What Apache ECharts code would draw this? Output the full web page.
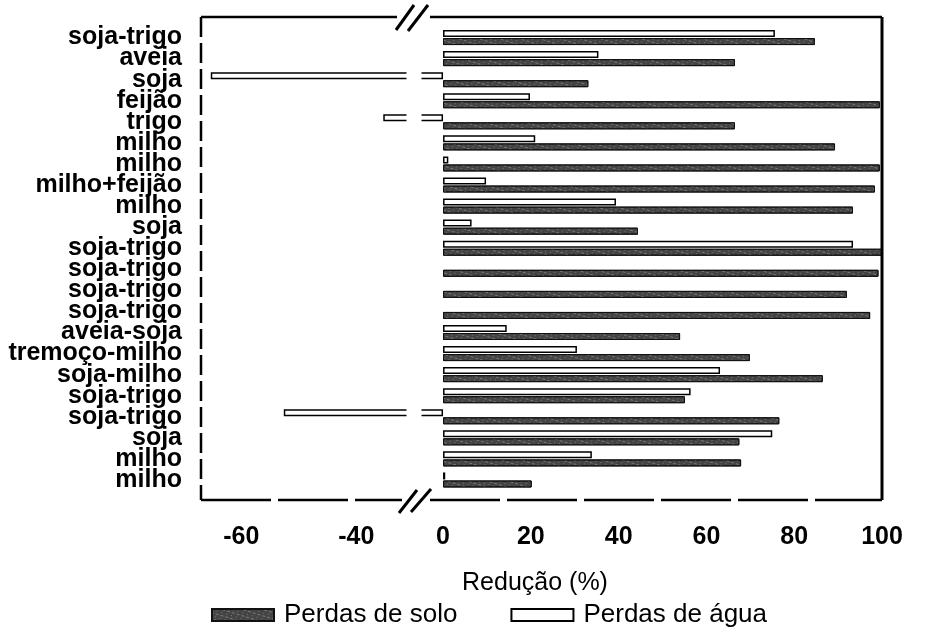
<!DOCTYPE html>
<html>
<head>
<meta charset="utf-8">
<script src="https://cdn.jsdelivr.net/npm/echarts@6/dist/echarts.min.js"></script>
<style>html,body{margin:0;padding:0;background:#fff;}#chart{width:926px;height:632px;}</style>
</head>
<body>
<div id="chart"></div>
<script>
// ---- data ----
const categories = ['soja-trigo','aveia','soja','feijão','trigo','milho','milho','milho+feijão','milho','soja','soja-trigo','soja-trigo','soja-trigo','soja-trigo','aveia-soja','tremoço-milho','soja-milho','soja-trigo','soja-trigo','soja','milho','milho'];
const perdasSolo = [84.7, 66.5, 33.1, 99.5, 66.5, 89.3, 99.5, 98.4, 93.4, 44.4, 100, 99.2, 92, 97.3, 54, 69.9, 86.5, 55.1, 76.6, 67.5, 67.9, 20.2];
const perdasAgua = [75.6, 35.4, -65.3, 19.8, -35.3, 21, 1.2, 9.8, 39.4, 6.5, 93.4, null, null, null, 14.5, 30.5, 63.1, 56.4, -52.6, 75, 33.9, 0.5];
const ticksNeg = [-60, -40];
const ticksPos = [0, 20, 40, 60, 80, 100];
const seriesNames = ['Perdas de solo', 'Perdas de água'];

// ---- layout ----
const FR = {left: 201, right: 882, top: 17, bottom: 500};
const GRID_TOP = 27, GRID_H = 463.5;
const LEFT_W = 207, RIGHT_LEFT = 420;

const chart = echarts.init(document.getElementById('chart'), null, {renderer: 'canvas'});

const soloStyle = {
  color: '#444', borderColor: '#111', borderWidth: 1,
  decal: {symbol: 'rect', symbolSize: 1, color: 'rgba(255,255,255,0.28)',
          dashArrayX: [[3, 2], [1, 4]], dashArrayY: [1, 2], rotation: 0.3}
};
const aguaStyle = {color: '#fff', borderColor: '#000', borderWidth: 1.5};
const negOnly = arr => arr.map(v => (v != null && v < 0) ? v : null);

function mkBars(gridIdx, agua, solo) {
  return [
    {name: seriesNames[1], type: 'bar', xAxisIndex: gridIdx, yAxisIndex: gridIdx, data: agua,
     barWidth: 7, barGap: '15%', itemStyle: aguaStyle, clip: true},
    {name: seriesNames[0], type: 'bar', xAxisIndex: gridIdx, yAxisIndex: gridIdx, data: solo,
     barWidth: 7, barGap: '15%', itemStyle: soloStyle, clip: true}
  ];
}

const tickLabel = {fontFamily: 'Liberation Sans', fontWeight: 'bold', fontSize: 25, color: '#000', margin: 34};
const lineStyle = {stroke: '#000', lineWidth: 2.5};
function seg(x1, y1, x2, y2, dash, w) {
  return {type: 'line', z: 110, shape: {x1, y1, x2, y2},
          style: Object.assign({}, lineStyle, dash ? {lineDash: dash} : {}, w ? {lineWidth: w} : {}), silent: true};
}

const option = {
  animation: false,
  backgroundColor: '#fff',
  grid: [
    {left: FR.left, top: GRID_TOP, width: LEFT_W, height: GRID_H},
    {left: RIGHT_LEFT, top: GRID_TOP, width: FR.right - RIGHT_LEFT, height: GRID_H}
  ],
  xAxis: [
    {gridIndex: 0, type: 'value', min: -67, max: -31,
     axisLine: {show: false}, axisTick: {show: false}, splitLine: {show: false},
     axisLabel: Object.assign({customValues: ticksNeg}, tickLabel)},
    {gridIndex: 1, type: 'value', min: -5.25, max: 100,
     axisLine: {show: false}, axisTick: {show: false}, splitLine: {show: false},
     axisLabel: Object.assign({customValues: ticksPos}, tickLabel),
     name: 'Redução (%)', nameLocation: 'middle', nameGap: 80,
     nameTextStyle: {fontFamily: 'Liberation Sans', fontSize: 25, color: '#000', padding: [0, 232, 0, 0]}}
  ],
  yAxis: [
    {gridIndex: 0, type: 'category', data: categories, inverse: true,
     axisLine: {show: false}, axisTick: {show: false}, splitLine: {show: false},
     axisLabel: {margin: 19, fontFamily: 'Liberation Sans', fontWeight: 'bold', fontSize: 25, color: '#000', interval: 0}},
    {gridIndex: 1, type: 'category', data: categories, inverse: true, show: false}
  ],
  legend: {
    data: seriesNames, left: 211, top: 602, icon: 'rect', padding: 0,
    itemWidth: 62, itemHeight: 12, itemGap: 53,
    textStyle: {fontFamily: 'Liberation Sans', fontSize: 26, color: '#000', padding: [0, 0, 0, 5]}
  },
  series: [].concat(
    mkBars(0, negOnly(perdasAgua), negOnly(perdasSolo)),
    mkBars(1, perdasAgua, perdasSolo)
  ),
  graphic: [
    // axis-break gap cover
    {type: 'rect', z: 100, silent: true, shape: {x: 406.5, y: FR.top + 3, width: 15, height: FR.bottom - FR.top - 6},
     style: {fill: '#fff'}},
    seg(FR.left, FR.top, 397, FR.top),
    seg(430, FR.top, FR.right, FR.top),
    seg(FR.left, FR.bottom, 402, FR.bottom, [70, 7]),
    seg(430, FR.bottom, FR.right, FR.bottom, [70, 7]),
    seg(FR.left, FR.top, FR.left, FR.bottom, [20, 6]),
    seg(FR.right, FR.top, FR.right, FR.bottom, null, 3),
    seg(396, 30, 414, 5, null, 3), seg(408, 31, 428, 5, null, 3),
    seg(399, 513, 417, 490, null, 3), seg(411, 512, 431, 489, null, 3)
  ]
};
chart.setOption(option);
</script>
</body>
</html>
